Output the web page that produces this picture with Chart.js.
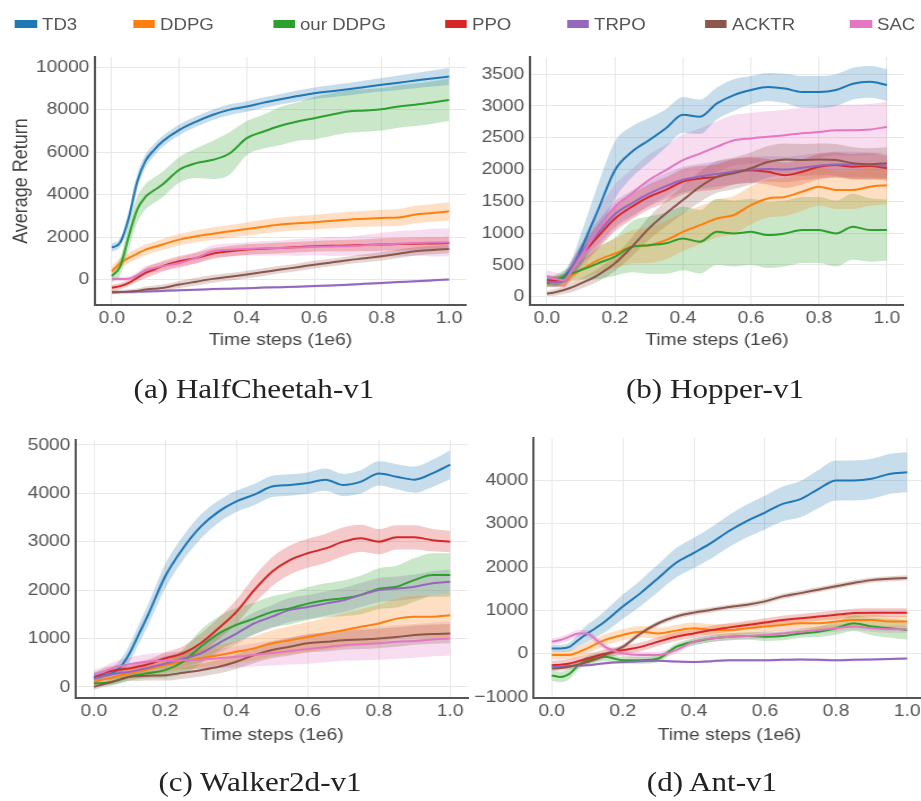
<!DOCTYPE html>
<html>
<head>
<meta charset="utf-8">
<script src="https://cdn.jsdelivr.net/npm/chart.js@4.4.1/dist/chart.umd.min.js"></script>
<style>
  html, body { margin: 0; padding: 0; background: #fff; overflow: hidden; width: 921px; height: 801px; }
  #page { position: absolute; left: 0; top: 0; width: 816px; height: 801px; transform-origin: 0 0; }
  #page canvas { position: absolute; }
  .swatch { position: absolute; height: 8px; }
  .label { position: absolute; font: 16.5px "Liberation Sans", Arial, sans-serif; color: #555; line-height: 20px; white-space: nowrap; }
  .caption { position: absolute; font: 27.5px "Liberation Serif", "Times New Roman", serif; color: #222; white-space: nowrap; transform: translate(-50%, -50%); }
</style>
</head>
<body>
<div id="page"></div>
<script>
// the reference is stretched sideways, so the whole page is drawn narrow and scaled back out
var SX = 1.13

var steps = [0, 0.025, 0.05, 0.075, 0.1, 0.125, 0.15, 0.2, 0.25, 0.3, 0.35, 0.4, 0.45, 0.5, 0.55, 0.6, 0.65, 0.7, 0.75, 0.8, 0.85, 0.9, 0.95, 1.0]
var xTicks = [0, 0.2, 0.4, 0.6, 0.8, 1.0]

var names = ["TD3", "DDPG", "our DDPG", "PPO", "TRPO", "ACKTR", "SAC"]
var colors = ["#1f77b4", "#ff7f0e", "#2ca02c", "#d62728", "#9467bd", "#8c564b", "#e377c2"]

// (a) HalfCheetah-v1
var hcTicks = [0, 2000, 4000, 6000, 8000, 10000]
var hcTD3 = [1500, 1750, 2900, 4600, 5600, 6100, 6500, 7050, 7440, 7760, 8000, 8150, 8330, 8490, 8640, 8775, 8870, 8960, 9070, 9170, 9270, 9370, 9470, 9560]
var hcTD3Sd = [200, 200, 300, 350, 300, 280, 260, 250, 250, 250, 250, 250, 250, 250, 260, 270, 280, 290, 300, 320, 340, 360, 380, 400]
var hcDDPG = [390, 780, 1020, 1220, 1410, 1530, 1650, 1880, 2040, 2160, 2270, 2380, 2490, 2590, 2650, 2700, 2760, 2820, 2860, 2900, 2920, 3060, 3130, 3210]
var hcDDPGSd = [250, 250, 250, 250, 250, 250, 260, 270, 280, 300, 300, 310, 320, 330, 340, 350, 360, 370, 380, 390, 400, 410, 420, 430]
var hcOurDDPG = [160, 630, 2040, 3290, 3900, 4200, 4470, 5170, 5480, 5640, 5950, 6660, 6970, 7240, 7440, 7600, 7760, 7910, 7960, 8020, 8150, 8230, 8340, 8460]
var hcOurDDPGSd = [300, 400, 600, 600, 600, 600, 600, 600, 700, 900, 1000, 800, 800, 900, 900, 1000, 1000, 1000, 1000, 1000, 1000, 1000, 1000, 1000]
var hcPPO = [-390, -310, -160, 80, 310, 470, 630, 860, 1020, 1220, 1330, 1410, 1450, 1490, 1530, 1570, 1590, 1600, 1620, 1650, 1670, 1690, 1700, 1720]
var hcPPOSd = [150, 150, 150, 200, 250, 250, 250, 250, 250, 250, 250, 250, 250, 250, 250, 250, 260, 270, 280, 290, 300, 300, 300, 300]
var hcTRPO = [-600, -590, -580, -570, -560, -550, -540, -500, -480, -450, -430, -410, -380, -360, -340, -310, -280, -250, -200, -160, -120, -80, -40, 0]
var hcTRPOSd = [60, 60, 60, 60, 60, 60, 60, 60, 60, 60, 60, 60, 60, 60, 60, 60, 60, 60, 60, 60, 60, 60, 60, 60]
var hcACKTR = [-600, -590, -570, -540, -470, -440, -400, -235, -100, 30, 130, 235, 350, 470, 580, 700, 800, 910, 1000, 1100, 1210, 1330, 1390, 1440]
var hcACKTRSd = [100, 100, 100, 120, 140, 150, 160, 170, 180, 180, 180, 180, 180, 180, 180, 180, 180, 180, 190, 200, 200, 200, 200, 200]
var hcSAC = [30, 30, 40, 200, 430, 540, 630, 780, 1020, 1330, 1400, 1440, 1470, 1490, 1510, 1540, 1560, 1570, 1610, 1650, 1690, 1720, 1740, 1750]
var hcSACSd = [100, 100, 100, 150, 200, 200, 200, 250, 250, 300, 300, 300, 350, 350, 400, 400, 450, 450, 500, 550, 600, 600, 650, 650]

// (b) Hopper-v1
var hpTicks = [0, 500, 1000, 1500, 2000, 2500, 3000, 3500]
var hpTD3 = [260, 235, 315, 470, 735, 1050, 1360, 1990, 2280, 2460, 2650, 2860, 2830, 3040, 3170, 3250, 3300, 3275, 3220, 3220, 3250, 3350, 3380, 3330]
var hpTD3Sd = [80, 80, 80, 150, 250, 320, 400, 450, 400, 350, 300, 280, 270, 250, 250, 220, 220, 230, 250, 250, 250, 250, 250, 250]
var hpDDPG = [210, 230, 260, 340, 420, 500, 575, 680, 785, 810, 890, 1020, 1125, 1230, 1285, 1440, 1545, 1570, 1650, 1730, 1680, 1680, 1730, 1755]
var hpDDPGSd = [60, 80, 100, 120, 150, 170, 200, 230, 260, 280, 300, 300, 300, 300, 300, 300, 300, 300, 300, 300, 300, 300, 300, 300]
var hpOurDDPG = [210, 260, 315, 370, 420, 470, 525, 630, 785, 810, 840, 915, 865, 1020, 995, 1020, 970, 995, 1050, 1050, 995, 1100, 1050, 1050]
var hpOurDDPGSd = [60, 80, 100, 120, 150, 200, 250, 300, 400, 450, 480, 500, 500, 520, 520, 520, 520, 520, 520, 520, 520, 520, 500, 480]
var hpPPO = [260, 250, 260, 450, 655, 800, 945, 1230, 1415, 1570, 1680, 1810, 1860, 1885, 1965, 1990, 1965, 1910, 1965, 2045, 2070, 2045, 2055, 2020]
var hpPPOSd = [80, 80, 100, 120, 150, 170, 190, 200, 200, 200, 200, 200, 200, 200, 200, 200, 200, 200, 200, 200, 200, 200, 200, 200]
var hpTRPO = [240, 230, 250, 460, 680, 850, 1000, 1300, 1470, 1620, 1740, 1840, 1890, 1930, 1970, 2000, 2010, 2000, 2030, 2060, 2080, 2080, 2070, 2060]
var hpTRPOSd = [80, 80, 100, 120, 150, 170, 190, 200, 200, 200, 200, 200, 200, 200, 200, 200, 200, 200, 200, 200, 200, 200, 200, 200]
var hpACKTR = [50, 70, 105, 150, 210, 270, 340, 525, 785, 1075, 1310, 1520, 1730, 1885, 1940, 2020, 2120, 2160, 2150, 2160, 2150, 2100, 2085, 2100]
var hpACKTRSd = [40, 50, 60, 70, 80, 90, 100, 120, 150, 180, 200, 220, 240, 250, 250, 250, 250, 250, 250, 250, 250, 250, 250, 250]
var hpSAC = [315, 280, 260, 420, 630, 840, 1050, 1415, 1625, 1835, 1990, 2150, 2250, 2360, 2460, 2490, 2515, 2540, 2570, 2590, 2620, 2620, 2630, 2670]
var hpSACSd = [100, 100, 100, 150, 200, 250, 300, 350, 380, 400, 400, 400, 400, 400, 400, 400, 400, 400, 400, 400, 400, 400, 400, 400]

// (c) Walker2d-v1
var wkTicks = [0, 1000, 2000, 3000, 4000, 5000]
var wkTD3 = [207, 240, 276, 414, 690, 1070, 1450, 2280, 2860, 3310, 3620, 3830, 3970, 4140, 4170, 4210, 4280, 4170, 4240, 4410, 4340, 4280, 4410, 4590]
var wkTD3Sd = [100, 100, 120, 150, 180, 200, 220, 250, 250, 250, 230, 220, 220, 220, 220, 220, 230, 230, 240, 250, 260, 270, 280, 300]
var wkDDPG = [100, 150, 190, 240, 276, 320, 360, 450, 520, 590, 655, 725, 795, 900, 965, 1030, 1100, 1170, 1240, 1310, 1410, 1450, 1450, 1480]
var wkDDPGSd = [80, 90, 100, 110, 120, 130, 140, 150, 170, 190, 210, 230, 250, 270, 290, 310, 330, 350, 370, 390, 410, 430, 440, 450]
var wkOurDDPG = [70, 80, 100, 150, 210, 250, 280, 345, 520, 830, 1100, 1280, 1410, 1550, 1620, 1720, 1790, 1830, 1900, 2030, 2070, 2210, 2310, 2310]
var wkOurDDPGSd = [50, 50, 60, 70, 80, 90, 100, 150, 250, 350, 350, 350, 330, 320, 330, 340, 350, 370, 400, 420, 430, 450, 450, 450]
var wkPPO = [170, 280, 330, 360, 380, 420, 460, 590, 690, 900, 1210, 1550, 2000, 2380, 2620, 2760, 2860, 3000, 3070, 3000, 3090, 3090, 3030, 3000]
var wkPPOSd = [100, 100, 100, 100, 100, 100, 100, 120, 150, 200, 220, 250, 280, 300, 300, 300, 300, 300, 280, 260, 250, 250, 230, 220]
var wkTRPO = [170, 220, 260, 290, 310, 350, 390, 480, 580, 690, 900, 1100, 1310, 1450, 1590, 1650, 1720, 1790, 1900, 2000, 2030, 2070, 2140, 2170]
var wkTRPOSd = [100, 100, 100, 110, 120, 130, 140, 150, 160, 180, 200, 220, 230, 240, 250, 250, 250, 250, 250, 250, 250, 250, 250, 250]
var wkACKTR = [0, 50, 100, 160, 210, 220, 230, 240, 290, 345, 414, 520, 655, 760, 830, 900, 930, 965, 980, 1000, 1030, 1070, 1090, 1100]
var wkACKTRSd = [60, 60, 70, 80, 90, 100, 100, 110, 120, 130, 140, 150, 160, 170, 180, 190, 200, 200, 200, 200, 200, 200, 200, 200]
var wkSAC = [250, 300, 380, 430, 470, 500, 520, 540, 550, 560, 590, 620, 660, 700, 740, 780, 820, 860, 880, 900, 930, 950, 980, 1000]
var wkSACSd = [100, 110, 120, 130, 140, 150, 160, 170, 180, 190, 200, 220, 240, 260, 280, 300, 310, 320, 330, 340, 350, 350, 350, 350]

// (d) Ant-v1
var antTicks = [-1000, 0, 1000, 2000, 3000, 4000]
var antTD3 = [125, 125, 160, 320, 470, 600, 745, 1090, 1400, 1750, 2100, 2330, 2565, 2840, 3070, 3260, 3460, 3570, 3800, 4000, 4000, 4040, 4150, 4190]
var antTD3Sd = [80, 80, 100, 150, 200, 220, 250, 280, 300, 320, 340, 350, 360, 370, 380, 390, 400, 420, 440, 460, 460, 460, 460, 460]
var antDDPG = [-30, -30, -30, 40, 125, 230, 320, 435, 510, 470, 535, 590, 550, 550, 590, 630, 665, 705, 705, 745, 780, 780, 745, 745]
var antDDPGSd = [100, 100, 110, 120, 130, 130, 130, 130, 130, 130, 130, 130, 130, 130, 130, 130, 130, 130, 130, 130, 130, 130, 130, 130]
var antOurDDPG = [-500, -535, -460, -265, -150, -100, -70, -150, -150, -110, 160, 280, 355, 395, 410, 395, 410, 470, 510, 590, 705, 630, 590, 550]
var antOurDDPGSd = [120, 120, 120, 100, 100, 100, 100, 80, 80, 80, 80, 80, 80, 80, 80, 100, 100, 100, 120, 150, 180, 200, 220, 220]
var antPPO = [-265, -250, -225, -170, -110, -50, 0, 85, 160, 280, 395, 470, 550, 610, 665, 720, 780, 820, 860, 900, 940, 950, 950, 950]
var antPPOSd = [100, 100, 100, 100, 100, 100, 100, 100, 100, 100, 100, 100, 100, 100, 100, 100, 100, 100, 100, 100, 100, 100, 100, 100]
var antTRPO = [-300, -290, -280, -270, -265, -240, -220, -190, -170, -160, -180, -190, -170, -150, -150, -150, -140, -130, -140, -150, -140, -130, -120, -110]
var antTRPOSd = [30, 30, 30, 30, 30, 30, 30, 30, 30, 30, 30, 30, 30, 30, 30, 30, 30, 30, 30, 30, 30, 30, 30, 30]
var antACKTR = [-340, -330, -300, -250, -190, -120, -30, 160, 470, 705, 860, 950, 1015, 1080, 1130, 1210, 1325, 1400, 1480, 1560, 1635, 1700, 1730, 1750]
var antACKTRSd = [60, 60, 60, 60, 60, 60, 60, 60, 60, 60, 60, 60, 60, 60, 60, 60, 60, 60, 60, 60, 60, 60, 60, 60]
var antSAC = [280, 320, 395, 470, 470, 320, 160, 10, -30, -30, 85, 280, 355, 395, 410, 435, 470, 510, 550, 590, 630, 590, 565, 565]
var antSACSd = [80, 80, 80, 80, 80, 80, 80, 80, 80, 80, 80, 80, 80, 80, 80, 80, 80, 80, 80, 80, 80, 80, 80, 80]

// boxes are given in reference pixels: canvas [left, top, width, height], plot area [left, top, right, bottom]
var panels = [
  { canvas: [0, 40, 480, 320], area: [95, 57, 466, 305], y: [-1200, 10480], ticks: hcTicks, yTitle: "Average Return", yTitleX: 22, xTitleY: 340,
    mean: [hcTD3, hcDDPG, hcOurDDPG, hcPPO, hcTRPO, hcACKTR, hcSAC], sd: [hcTD3Sd, hcDDPGSd, hcOurDDPGSd, hcPPOSd, hcTRPOSd, hcACKTRSd, hcSACSd] },
  { canvas: [460, 40, 470, 320], area: [530, 57, 904, 305], y: [-130, 3770], ticks: hpTicks, xTitleY: 340,
    mean: [hpTD3, hpDDPG, hpOurDDPG, hpPPO, hpTRPO, hpACKTR, hpSAC], sd: [hpTD3Sd, hpDDPGSd, hpOurDDPGSd, hpPPOSd, hpTRPOSd, hpACKTRSd, hpSACSd] },
  { canvas: [0, 420, 480, 340], area: [76, 440, 468, 698], y: [-230, 5100], ticks: wkTicks, xTitleY: 735,
    mean: [wkTD3, wkDDPG, wkOurDDPG, wkPPO, wkTRPO, wkACKTR, wkSAC], sd: [wkTD3Sd, wkDDPGSd, wkOurDDPGSd, wkPPOSd, wkTRPOSd, wkACKTRSd, wkSACSd] },
  { canvas: [460, 420, 480, 340], area: [534, 438, 925, 698], y: [-1020, 4980], ticks: antTicks, xTitleY: 735,
    mean: [antTD3, antDDPG, antOurDDPG, antPPO, antTRPO, antACKTR, antSAC], sd: [antTD3Sd, antDDPGSd, antOurDDPGSd, antPPOSd, antTRPOSd, antACKTRSd, antSACSd] }
]

var captions = [["(a) HalfCheetah-v1", 254, 389], ["(b) Hopper-v1", 715, 389], ["(c) Walker2d-v1", 260, 782], ["(d) Ant-v1", 712, 782]]
var legendX = [15, 133, 273, 445, 567, 705, 850]

var FONT = "'Liberation Sans', Arial, sans-serif"
var page = document.getElementById("page")
page.style.transform = "scaleX(" + SX + ")"

function rgba(hex, a) {
  var n = parseInt(hex.slice(1), 16)
  return "rgba(" + (n >> 16) + "," + ((n >> 8) & 255) + "," + (n & 255) + "," + a + ")"
}

function points(vals, sign, sd) {
  return steps.map(function (x, i) { return { x: x, y: vals[i] + sign * (sd ? sd[i] : 0) } })
}

function draw_panel(p) {
  var cw = p.canvas[2] / SX, ch = p.canvas[3]
  var c = document.createElement("canvas")
  c.width = Math.round(cw); c.height = ch
  c.style.left = (p.canvas[0] / SX) + "px"
  c.style.top = p.canvas[1] + "px"
  page.appendChild(c)

  var yAxisW = (p.area[0] - p.canvas[0]) / SX
  var padTop = p.area[1] - p.canvas[1]
  var padRight = c.width - (p.area[2] - p.canvas[0]) / SX
  var xAxisH = ch - (p.area[3] - p.canvas[1])
  var xTitlePad = ch - (p.xTitleY - p.canvas[1]) - 17 * 1.2 / 2
  var yTitlePad = (p.yTitleX || 0) / SX - 18 * 1.2 / 2

  var datasets = []
  // shaded bands first
  for (var k = 0; k < names.length; k++) {
    datasets.push({ data: points(p.mean[k], 1, p.sd[k]), borderColor: "rgba(0,0,0,0)", borderWidth: 0, fill: false, order: 20 })
    datasets.push({ data: points(p.mean[k], -1, p.sd[k]), borderColor: "rgba(0,0,0,0)", borderWidth: 0,
      fill: "-1", backgroundColor: rgba(colors[k], 0.25), order: 20 })
  }
  // mean lines, later series drawn on top
  for (var k = 0; k < names.length; k++) {
    datasets.push({ label: names[k], data: points(p.mean[k], 0), borderColor: colors[k], borderWidth: 2, fill: false, order: 10 - k })
  }

  var tickFont = { family: FONT, size: 17 }
  new Chart(c.getContext("2d"), {
    type: "line",
    data: { datasets: datasets },
    options: {
      responsive: false, animation: false, events: [],
      layout: { padding: { left: 0, top: padTop, right: padRight, bottom: 0 } },
      plugins: { legend: { display: false }, tooltip: { enabled: false } },
      elements: { point: { radius: 0 }, line: { cubicInterpolationMode: "monotone" } },
      scales: {
        x: {
          type: "linear", min: -0.05, max: 1.05,
          afterBuildTicks: function (s) { s.ticks = xTicks.map(function (v) { return { value: v } }) },
          afterFit: function (s) { s.height = xAxisH },
          ticks: { color: "#555", font: tickFont, padding: 3, maxRotation: 0, callback: function (v) { return v.toFixed(1) } },
          grid: { color: "#e8e8e8", drawTicks: false },
          border: { color: "#555", width: 2 },
          title: { display: true, text: "Time steps (1e6)", color: "#444", font: { family: FONT, size: 17 }, padding: { top: 0, bottom: xTitlePad } }
        },
        y: {
          type: "linear", min: p.y[0], max: p.y[1],
          afterBuildTicks: function (s) { s.ticks = p.ticks.map(function (v) { return { value: v } }) },
          afterFit: function (s) { s.width = yAxisW },
          ticks: { color: "#555", font: tickFont, padding: 5, callback: function (v) { return v < 0 ? "\u2212" + (-v) : String(v) } },
          grid: { color: "#e8e8e8", drawTicks: false },
          border: { color: "#555", width: 2 },
          title: { display: !!p.yTitle, text: p.yTitle || "", color: "#444", font: { family: FONT, size: 18 }, padding: { top: yTitlePad, bottom: 0 } }
        }
      }
    }
  })
}

panels.forEach(draw_panel)

// legend row
names.forEach(function (n, i) {
  var sw = document.createElement("div")
  sw.className = "swatch"
  sw.style.left = (legendX[i] / SX) + "px"
  sw.style.top = "20px"
  sw.style.width = (22 / SX) + "px"
  sw.style.background = colors[i]
  page.appendChild(sw)
  var t = document.createElement("div")
  t.className = "label"
  t.style.left = ((legendX[i] + 27) / SX) + "px"
  t.style.top = "14px"
  t.textContent = n
  page.appendChild(t)
})

captions.forEach(function (cap) {
  var d = document.createElement("div")
  d.className = "caption"
  d.style.left = (cap[1] / SX) + "px"
  d.style.top = cap[2] + "px"
  d.textContent = cap[0]
  page.appendChild(d)
})
</script>
</body>
</html>
